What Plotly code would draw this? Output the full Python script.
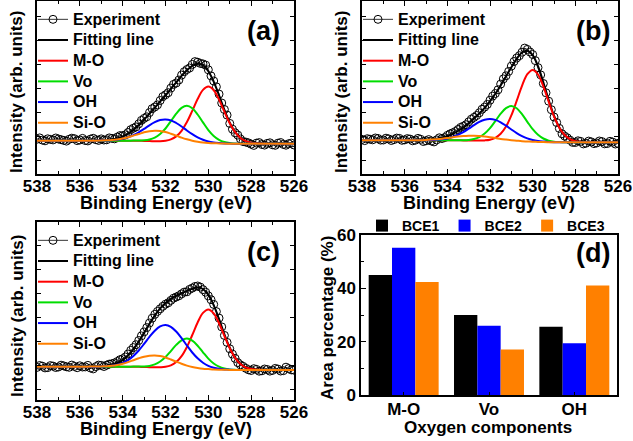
import plotly.graph_objects as go

# ---------------- data ----------------
# binding-energy grid for the fitted curves (eV)
E = [538, 537, 536, 535.5, 535, 534.75, 534.5, 534.25, 534, 533.75, 533.5, 533.25,
     533, 532.75, 532.5, 532.25, 532, 531.75, 531.5, 531.25, 531, 530.75, 530.5, 530.25,
     530, 529.75, 529.5, 529.25, 529, 528.75, 528.5, 528.25, 528, 527.5, 527, 526]
# binding-energy grid for the measured points (eV)
E_EXP = [538, 537.875, 537.75, 537.625, 537.5, 537.375, 537.25, 537.125, 537, 536.875, 536.75,
         536.625, 536.5, 536.375, 536.25, 536.125, 536, 535.875, 535.75, 535.625, 535.5, 535.375,
         535.25, 535.125, 535, 534.875, 534.75, 534.625, 534.5, 534.375, 534.25, 534.125, 534,
         533.875, 533.75, 533.625, 533.5, 533.375, 533.25, 533.125, 533, 532.875, 532.75, 532.625,
         532.5, 532.375, 532.25, 532.125, 532, 531.875, 531.75, 531.625, 531.5, 531.375, 531.25,
         531.125, 531, 530.875, 530.75, 530.625, 530.5, 530.375, 530.25, 530.125, 530, 529.875,
         529.75, 529.625, 529.5, 529.375, 529.25, 529.125, 529, 528.875, 528.75, 528.625, 528.5,
         528.375, 528.25, 528.125, 528, 527.875, 527.75, 527.625, 527.5, 527.375, 527.25, 527.125,
         527, 526.875, 526.75, 526.625, 526.5, 526.375, 526.25, 526.125, 526]

# panel (a)
exp_a = [34.8, 36.1, 33.9, 33.2, 35.2, 34.6, 34.1, 36.0, 35.0, 34.3, 33.6, 32.9, 34.7, 35.8, 35.3,
         33.4, 34.0, 35.6, 33.5, 33.1, 34.9, 35.7, 34.3, 33.6, 35.1, 34.0, 34.2, 36.1, 35.6, 35.2,
         36.9, 38.4, 38.3, 39.2, 41.5, 44.3, 45.8, 47.1, 50.1, 53.6, 55.6, 57.2, 61.4, 65.3, 67.0,
         69.1, 73.5, 77.4, 79.2, 81.3, 85.9, 89.6, 91.0, 94.0, 98.9, 102.3, 104.5, 106.0, 109.6,
         112.4, 111.8, 110.6, 110.1, 108.9, 104.2, 98.1, 93.0, 87.2, 79.9, 71.0, 64.5, 58.9, 50.6,
         44.8, 41.2, 38.9, 35.0, 32.4, 31.9, 31.1, 29.8, 28.6, 30.9, 31.4, 29.5, 28.9, 30.6, 31.2,
         29.2, 28.7, 30.8, 31.5, 29.6, 28.8, 30.3, 30.9, 29.0]
fit_a = [33.3, 33.3, 33.3, 33.3, 33.6, 33.9, 34.5, 35.6, 37.4, 40.2, 44.1, 48.7, 54.3, 60.2, 66.2,
         72.4, 78.5, 85.0, 91.6, 98.1, 103.8, 108.1, 110.2, 108.8, 102.8, 92.4, 78.6, 64.1, 51.4,
         42.0, 36.1, 32.8, 31.3, 30.4, 30.3, 30.3]
mo_a = [33.3] * 11 + [33.2, 33.1, 32.9, 32.8, 32.8, 33.3, 34.6, 37.6, 43.2, 51.9, 63.2, 75.0, 84.1,
                      87.4, 83.8, 74.4, 62.3, 50.7, 41.8, 36.0, 32.8, 31.3, 30.4, 30.3, 30.3]
vo_a = [33.3] * 10 + [33.4, 33.4, 33.7, 34.5, 36.4, 40.0, 45.5, 52.8, 60.3, 66.1, 68.2, 65.7, 59.5,
                      51.6, 43.9, 38.1, 34.2, 32.0, 30.9, 30.5] + [30.3] * 6
oh_a = [33.3] * 4 + [33.4, 33.5, 33.8, 34.3, 35.2, 36.7, 38.9, 41.7, 45.1, 48.7, 51.8, 54.0, 54.6,
                     53.6, 51.0, 47.5, 43.5, 39.8, 36.7, 34.3, 32.6, 31.6, 31.0, 30.6, 30.4] + [30.3] * 7
sio_a = [33.3] * 4 + [33.5, 33.7, 34.0, 34.6, 35.5, 36.8, 38.4, 40.0, 41.7, 42.8, 43.3, 43.1, 42.0,
                      40.3, 38.4, 36.4, 34.7, 33.3, 32.3, 31.5, 31.0, 30.7, 30.6, 30.4] + [30.3] * 8

# panel (b)
exp_b = [34.6, 33.4, 35.3, 34.8, 34.2, 36.0, 35.5, 33.9, 34.0, 35.8, 35.1, 33.5, 34.4, 35.9, 35.6,
         33.7, 34.1, 35.4, 34.9, 33.2, 33.8, 35.6, 34.7, 32.5, 33.2, 34.4, 33.0, 32.1, 34.1, 36.2,
         35.5, 36.4, 38.6, 40.1, 41.2, 42.5, 44.5, 46.6, 47.8, 49.3, 52.1, 54.8, 56.6, 58.5, 61.2,
         64.7, 66.9, 69.6, 73.8, 77.9, 80.5, 84.2, 89.9, 95.1, 98.2, 102.6, 107.9, 112.5, 116.0,
         118.3, 121.8, 125.9, 124.6, 122.0, 119.5, 113.4, 106.4, 99.1, 90.5, 81.2, 72.8, 64.3, 57.0,
         51.5, 45.6, 40.2, 37.9, 36.1, 33.8, 31.6, 31.5, 33.2, 32.6, 30.1, 30.8, 32.9, 32.1, 30.4,
         31.0, 33.0, 32.4, 30.2, 30.5, 32.7, 31.9, 30.0, 30.6]
fit_b = [33.7, 33.7, 33.7, 33.8, 34.2, 34.6, 35.3, 36.3, 37.8, 40.0, 43.0, 46.4, 50.6, 55.4, 60.5,
         66.2, 72.6, 80.2, 88.6, 97.6, 106.8, 115.2, 121.5, 123.2, 118.8, 107.8, 91.8, 74.1, 58.3,
         46.5, 39.0, 34.9, 32.9, 31.8, 31.7, 31.7]
mo_b = [33.7] * 11 + [33.6, 33.5, 33.4, 33.4, 33.6, 34.3, 36.2, 40.2, 47.4, 58.6, 73.1, 88.2, 99.8,
                      104.1, 99.5, 87.7, 72.3, 57.6, 46.3, 39.0, 34.9, 32.9, 31.8, 31.7, 31.7]
vo_b = [33.7] * 10 + [33.8, 33.8, 34.1, 35.0, 36.9, 40.4, 45.8, 52.9, 60.3, 65.9, 68.0, 65.7, 59.8,
                      52.2, 44.8, 39.2, 35.5, 33.4, 32.3, 31.9] + [31.7] * 6
oh_b = [33.7] * 4 + [33.8, 33.9, 34.2, 34.7, 35.6, 37.0, 39.2, 41.9, 45.3, 48.9, 52.1, 54.3, 55.0,
                     54.1, 51.7, 48.3, 44.5, 40.9, 37.9, 35.6, 34.0, 33.0, 32.4, 32.0, 31.8] + [31.7] * 7
sio_b = [33.7, 33.7, 33.7, 33.8, 34.1, 34.4, 34.8, 35.3, 35.9, 36.7, 37.4, 37.9, 38.2, 38.3, 38.0,
         37.5, 36.8, 36.0, 35.1, 34.4, 33.8, 33.3, 32.8, 32.5, 32.2, 32.1, 31.9, 31.8] + [31.7] * 8

# panel (c)
exp_c = [32.6, 34.5, 33.8, 32.1, 32.4, 34.4, 33.9, 32.5, 33.0, 34.8, 34.1, 33.2, 32.7, 34.9, 33.6,
         32.3, 34.2, 33.0, 33.1, 34.6, 32.0, 31.1, 33.4, 34.9, 34.6, 33.5, 34.8, 35.9, 36.3, 37.1,
         38.5, 40.3, 41.2, 43.0, 46.0, 49.6, 52.4, 55.3, 59.5, 64.1, 68.1, 72.4, 77.0, 81.8, 85.6,
         88.6, 91.2, 93.7, 95.8, 97.2, 99.6, 101.8, 103.0, 104.2, 106.1, 107.9, 108.2, 110.6, 111.9,
         113.5, 114.0, 112.9, 110.4, 107.8, 104.1, 100.3, 95.6, 88.4, 81.9, 73.1, 64.6, 57.6, 51.2,
         45.9, 41.6, 37.4, 35.1, 33.6, 31.7, 30.2, 29.5, 31.3, 30.6, 28.8, 29.2, 31.0, 30.5, 28.9,
         29.6, 31.6, 30.9, 29.0, 29.3, 32.8, 31.4, 30.1, 29.8]
fit_c = [33.3, 33.3, 33.3, 33.4, 33.7, 34.2, 35.2, 37.0, 39.9, 44.4, 50.6, 58.2, 66.9, 75.9, 84.4,
         91.6, 97.1, 101.2, 104.4, 106.8, 109.1, 111.2, 112.5, 111.0, 105.3, 94.8, 80.8, 65.7, 52.4,
         42.4, 36.2, 32.6, 31.0, 30.1, 30.0, 30.0]
mo_c = [33.3] * 11 + [33.2, 33.0, 32.8, 32.7, 32.8, 33.2, 34.6, 37.9, 43.8, 53.0, 65.0, 77.5, 87.1,
                      90.6, 86.7, 76.8, 64.0, 51.7, 42.2, 36.1, 32.6, 31.0, 30.1, 30.0, 30.0]
vo_c = [33.3] * 10 + [33.4, 33.4, 33.5, 34.1, 35.6, 38.5, 43.0, 48.9, 55.1, 59.7, 61.4, 59.3, 54.3,
                      47.7, 41.4, 36.5, 33.3, 31.5, 30.6, 30.2] + [30.0] * 6
oh_c = [33.3] * 4 + [33.5, 33.7, 34.2, 35.2, 36.9, 39.8, 44.0, 49.5, 56.1, 63.1, 69.3, 73.6, 75.0,
                     73.2, 68.5, 61.9, 54.5, 47.5, 41.7, 37.3, 34.2, 32.3, 31.2, 30.6, 30.3] + [30.0] * 7
sio_c = [33.3, 33.3, 33.3, 33.4, 33.6, 33.8, 34.3, 35.1, 36.3, 37.9, 39.8, 41.7, 43.3, 44.3, 44.6,
         43.9, 42.5, 40.5, 38.3, 36.2, 34.4, 33.0, 32.0, 31.3, 30.9, 30.5, 30.3, 30.2, 30.1] + [30.0] * 7

# panel (d)
categories = ["M-O", "Vo", "OH"]
bce1 = [45.0, 30.0, 25.6]
bce2 = [55.2, 26.0, 19.4]
bce3 = [42.4, 17.1, 41.1]

xps_legend_names = ["Experiment", "Fitting line", "M-O", "Vo", "OH", "Si-O"]
component_colors = ["#FF0000", "#00DD00", "#0000FF", "#FF8000"]
bar_names = ["BCE1", "BCE2", "BCE3"]
bar_colors = ["#000000", "#0000FF", "#FF8000"]

# ---------------- figure ----------------
W, H = 633, 441
FONT = "Liberation Sans, Arial, sans-serif"


def fx(p):
    return p / W


def fy(p):
    return 1 - p / H


def lname(s):
    return '<span style="font-size:16px">' + s + "</span>"


fig = go.Figure()

panels = [
    ("x", "y", "legend", exp_a, fit_a, [mo_a, vo_a, oh_a, sio_a]),
    ("x2", "y2", "legend2", exp_b, fit_b, [mo_b, vo_b, oh_b, sio_b]),
    ("x3", "y3", "legend3", exp_c, fit_c, [mo_c, vo_c, oh_c, sio_c]),
]
for xa, ya, lg, ex, fit, comps in panels:
    fig.add_trace(go.Scatter(
        x=E_EXP, y=ex, mode="lines+markers", name=lname(xps_legend_names[0]),
        marker=dict(symbol="circle-open", size=8, color="black", line=dict(width=1)),
        line=dict(color="black", width=0.8),
        xaxis=xa, yaxis=ya, legend=lg))
    fig.add_trace(go.Scatter(
        x=E, y=fit, mode="lines", name=lname(xps_legend_names[1]),
        line=dict(color="black", width=2, shape="spline"),
        xaxis=xa, yaxis=ya, legend=lg))
    for nm, col, vals in zip(xps_legend_names[2:], component_colors, comps):
        fig.add_trace(go.Scatter(
            x=E, y=vals, mode="lines", name=lname(nm),
            line=dict(color=col, width=2, shape="spline"),
            xaxis=xa, yaxis=ya, legend=lg))

for nm, col, vals in zip(bar_names, bar_colors, [bce1, bce2, bce3]):
    fig.add_trace(go.Bar(x=categories, y=vals, name=nm, marker=dict(color=col, line=dict(width=0)),
                         xaxis="x4", yaxis="y4", legend="legend4"))

tickfont = dict(family=FONT, size=17, color="black", weight="bold")


def xps_xaxis(dom, anchor):
    return dict(domain=dom, anchor=anchor, range=[538, 526], tickmode="linear", tick0=526, dtick=2,
                ticks="inside", ticklen=5, tickwidth=1.3, tickcolor="black", ticklabelstandoff=-4,
                minor=dict(dtick=1, ticks="inside", ticklen=3, tickcolor="black", tickwidth=1.2),
                showline=True, linecolor="black", linewidth=1.5, mirror="ticks",
                showgrid=False, zeroline=False, tickfont=tickfont, automargin=False)


def xps_yaxis(dom, anchor, top, t0):
    return dict(domain=dom, anchor=anchor, range=[0, top], showticklabels=False,
                tickmode="linear", tick0=t0, dtick=24, ticks="inside", ticklen=4,
                tickwidth=1.2, tickcolor="black",
                showline=True, linecolor="black", linewidth=1.5, mirror="ticks",
                showgrid=False, zeroline=False, automargin=False)


xa_dom = [fx(37), fx(294)]
xb_dom = [fx(362), fx(618)]
top_dom = [fy(174), fy(1)]
bot_dom = [fy(400), fy(222)]

legend_common = dict(bgcolor="rgba(0,0,0,0)", borderwidth=0, itemwidth=30, tracegroupgap=0,
                     font=dict(family=FONT, size=13.6, color="black", weight="bold"),
                     xanchor="left", yanchor="top", itemclick=False)

fig.update_layout(
    width=W, height=H,
    margin=dict(l=0, r=0, t=0, b=0),
    paper_bgcolor="white", plot_bgcolor="white",
    showlegend=True,
    barmode="group", bargap=0.18, bargroupgap=0,
    xaxis=xps_xaxis(xa_dom, "y"),
    yaxis=xps_yaxis(top_dom, "x", 173, 14),
    xaxis2=xps_xaxis(xb_dom, "y2"),
    yaxis2=xps_yaxis(top_dom, "x2", 173, 14),
    xaxis3=xps_xaxis(xa_dom, "y3"),
    yaxis3=xps_yaxis(bot_dom, "x3", 178, 11),
    xaxis4=dict(domain=[fx(361), fx(617)], anchor="y4", type="category", range=[-0.5, 2.5],
                ticks="inside", ticklen=3, tickcolor="black", showline=True, linecolor="black",
                linewidth=1.5, mirror=True, showgrid=False, zeroline=False, tickfont=tickfont,
                ticklabelstandoff=-2, automargin=False),
    yaxis4=dict(domain=[fy(395), fy(235)], anchor="x4", range=[0, 60], tickmode="linear", tick0=0,
                dtick=20, ticks="inside", ticklen=5, tickcolor="black", tickwidth=1.3,
                minor=dict(dtick=10, ticks="inside", ticklen=3, tickcolor="black"),
                showline=True, linecolor="black", linewidth=1.5, mirror=True, showgrid=False,
                zeroline=False, tickfont=tickfont, automargin=False),
    legend=dict(x=fx(33), y=fy(4), **legend_common),
    legend2=dict(x=fx(358), y=fy(4), **legend_common),
    legend3=dict(x=fx(33), y=fy(225), **legend_common),
    legend4=dict(x=fx(486), y=fy(226), xanchor="center", yanchor="middle", orientation="h",
                 bgcolor="rgba(0,0,0,0)", itemclick=False,
                 font=dict(family=FONT, size=14, color="black", weight="bold")),
)

title_font = dict(family=FONT, size=17, color="black", weight="bold")
xtitle_font = dict(family=FONT, size=18, color="black", weight="bold")
label_font = dict(family=FONT, size=27, color="black", weight="bold")
annotations = [
    ("(a)", 263, 31, 0, label_font),
    ("(b)", 593, 31, 0, label_font),
    ("(c)", 263, 252, 0, label_font),
    ("(d)", 593, 253, 0, label_font),
    ("Binding Energy (eV)", 166, 203, 0, xtitle_font),
    ("Binding Energy (eV)", 489, 203, 0, xtitle_font),
    ("Binding Energy (eV)", 166, 429, 0, xtitle_font),
    ("Oxygen components", 488, 427, 0, title_font),
    ("Intensity (arb. units)", 17, 92, -90, title_font),
    ("Intensity (arb. units)", 342, 92, -90, title_font),
    ("Intensity (arb. units)", 17, 316, -90, title_font),
    ("Area percentage (%)", 327, 318, -90, title_font),
]
for txt, px, py, ang, fnt in annotations:
    fig.add_annotation(text=txt, x=fx(px), y=fy(py), xref="paper", yref="paper",
                       xanchor="center", yanchor="middle", showarrow=False,
                       textangle=ang, font=fnt)

fig.write_html("out.html", config={"displayModeBar": False},
               post_script="document.body.style.margin='0';document.body.style.overflow='hidden';")
